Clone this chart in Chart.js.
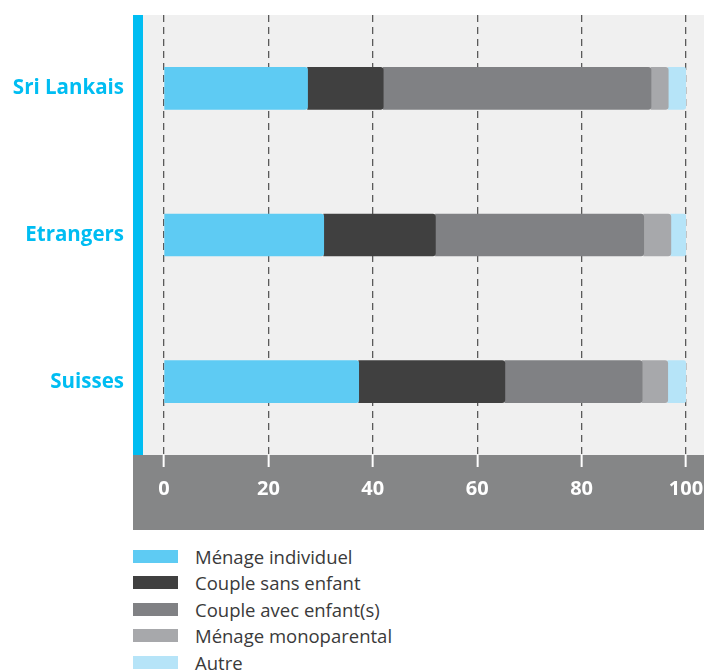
<!DOCTYPE html>
<html>
<head>
<meta charset="utf-8">
<script src="https://cdn.jsdelivr.net/npm/chart.js@4"></script>
<style>
  body { margin: 0; background: #fff; font-family: "Open Sans", sans-serif; }
  #wrap { position: relative; width: 704px; height: 540px; }
  #legend { position: absolute; left: 133px; top: 543px; }
  .item { height: 26.5px; display: flex; align-items: center; font-size: 18.5px; color: #3a3a3a; }
  .box { width: 45px; height: 13px; margin-right: 17px; }
</style>
</head>
<body>
<div id="wrap"><canvas id="grafik" width="704" height="540"></canvas></div>
<div id="legend"></div>
<script>
const categories = ["Sri Lankais", "Etrangers", "Suisses"];
const seriesNames = ["Ménage individuel", "Couple sans enfant", "Couple avec enfant(s)", "Ménage monoparental", "Autre"];
const menageIndividuel = [27.5, 30.6, 37.3];
const coupleSansEnfant = [14.5, 21.4, 28.0];
const coupleAvecEnfants = [51.3, 39.9, 26.3];
const menageMonoparental = [3.3, 5.2, 4.9];
const autre = [3.4, 2.9, 3.5];
const xTicks = [0, 20, 40, 60, 80, 100];
const colors = ["#5ecbf3", "#404040", "#808184", "#a7a8ab", "#b6e4f8"];

const values = [menageIndividuel, coupleSansEnfant, coupleAvecEnfants, menageMonoparental, autre];

// fond gris clair, bande bleue et bande grise de l'axe
const decor = {
  id: "decor",
  beforeDraw(chart) {
    const { ctx, chartArea } = chart;
    const left = chartArea.left - 31;
    ctx.save();
    ctx.fillStyle = "#f0f0f0";
    ctx.fillRect(left, chartArea.top, chart.width - left, chartArea.bottom - chartArea.top);
    ctx.fillStyle = "#858687";
    ctx.fillRect(left, chartArea.bottom, chart.width - left, 75);
    ctx.fillStyle = "#00bdf2";
    ctx.fillRect(left, chartArea.top, 10, chartArea.bottom - chartArea.top);
    ctx.restore();
  }
};

const noPad = (axis) => {
  axis.paddingTop = 0;
  axis.paddingBottom = 0;
  axis.paddingLeft = 0;
  axis.paddingRight = 0;
};

const crt = new Chart(document.getElementById("grafik"), {
  type: "bar",
  data: {
    labels: categories,
    datasets: seriesNames.map((name, i) => ({
      label: name,
      data: values[i],
      backgroundColor: colors[i],
      barThickness: 42,
      borderRadius: { topLeft: 0, bottomLeft: 0, topRight: 3, bottomRight: 3 },
      borderSkipped: false
    }))
  },
  options: {
    indexAxis: "y",
    responsive: false,
    animation: false,
    layout: { padding: { top: 15, right: 18, bottom: 10 } },
    scales: {
      x: {
        stacked: true,
        min: 0,
        max: 100,
        afterBuildTicks: (axis) => { axis.ticks = xTicks.map(v => ({ value: v })); },
        afterFit: (axis) => { axis.height = 75; noPad(axis); },
        grid: {
          color: "#5a5a5a",
          lineWidth: 1.3,
          tickColor: "#ffffff",
          tickLength: 12,
          tickWidth: 2
        },
        border: { display: false, dash: [7, 5] },
        ticks: {
          color: "#ffffff",
          padding: 10,
          maxRotation: 0,
          font: { family: "Open Sans", size: 20, weight: "bold" }
        }
      },
      y: {
        stacked: true,
        afterFit: (axis) => { axis.width = 164; noPad(axis); },
        grid: { display: false, drawTicks: false },
        border: { display: false },
        ticks: {
          color: "#00bdf2",
          padding: 40,
          font: { family: "Open Sans", size: 20.5, weight: "bold" }
        }
      }
    },
    plugins: {
      legend: { display: false },
      tooltip: { enabled: false }
    }
  },
  plugins: [decor]
});

const lg = document.getElementById("legend");
seriesNames.forEach((name, i) => {
  const row = document.createElement("div");
  row.className = "item";
  row.innerHTML = '<span class="box" style="background:' + colors[i] + '"></span>' + name;
  lg.appendChild(row);
});
</script>
</body>
</html>
